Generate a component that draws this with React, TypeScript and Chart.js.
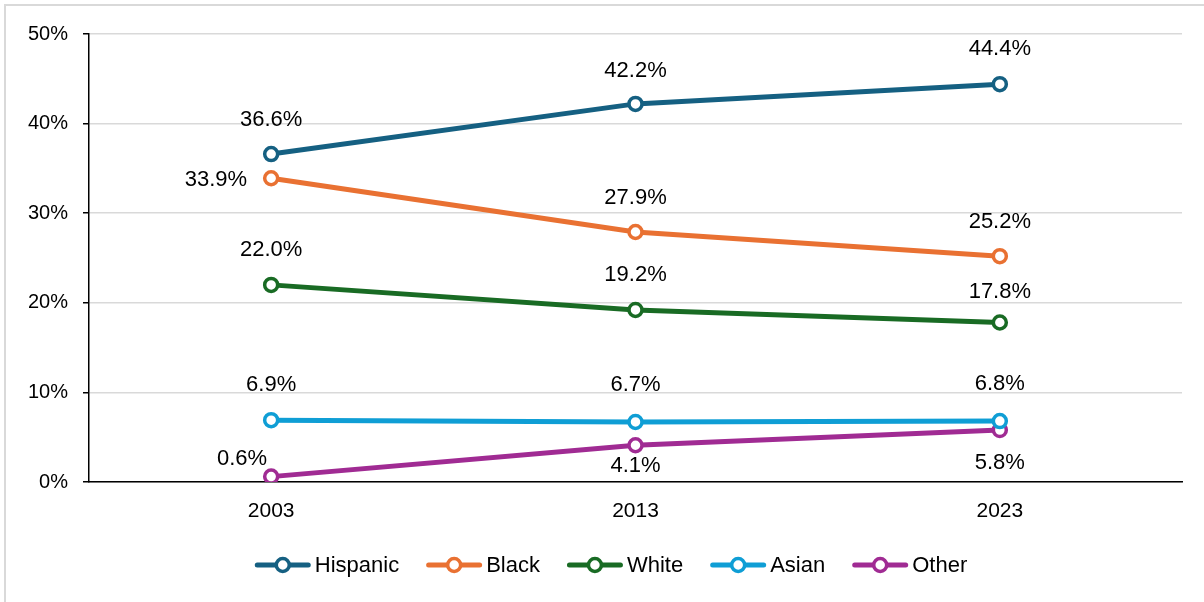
import React, { useEffect, useRef } from "react";
import { Chart, registerables } from "chart.js";

Chart.register(...registerables);

const years = ["2003", "2013", "2023"];
const seriesNames = ["Hispanic", "Black", "White", "Asian", "Other"];
const hispanic = [36.6, 42.2, 44.4];
const black = [33.9, 27.9, 25.2];
const white = [22.0, 19.2, 17.8];
const asian = [6.9, 6.7, 6.8];
const other = [0.6, 4.1, 5.8];
const yTicks = [0, 10, 20, 30, 40, 50];

const colors = ["#156082", "#E97132", "#196B24", "#0F9ED5", "#A02B93"];

// Where each value label sits relative to its point: [dx, dy, align]
type Place = [number, number, CanvasTextAlign];
const labelPlacement: Place[][] = [
  [[0, -34, "center"], [0, -33, "center"], [0, -35, "center"]],
  [[-24, 2, "right"], [0, -34, "center"], [0, -34, "center"]],
  [[0, -35, "center"], [0, -35, "center"], [0, -31, "center"]],
  [[0, -35, "center"], [0, -37, "center"], [0, -37, "center"]],
  [[-4, -18, "right"], [0, 21, "center"], [0, 33, "center"]],
];

const FONT = "'Liberation Sans', Arial, sans-serif";

// Legend row geometry
const LEGEND_CENTER_X = 611;
const LEGEND_Y = 565;
const MARKER_W = 56;
const MARKER_GAP = 4;
const ITEM_GAP = 27;

function drawMarker(ctx: CanvasRenderingContext2D, x: number, y: number, color: string) {
  ctx.save();
  ctx.strokeStyle = color;
  ctx.lineCap = "round";
  ctx.lineWidth = 5;
  ctx.beginPath();
  ctx.moveTo(x + 2.5, y);
  ctx.lineTo(x + MARKER_W - 2.5, y);
  ctx.stroke();
  ctx.beginPath();
  ctx.arc(x + MARKER_W / 2, y, 6.5, 0, Math.PI * 2);
  ctx.fillStyle = "#fff";
  ctx.fill();
  ctx.lineWidth = 3.5;
  ctx.stroke();
  ctx.restore();
}

const valueLabels = {
  id: "valueLabels",
  afterDatasetsDraw(chart: Chart) {
    const ctx = chart.ctx;
    ctx.save();
    ctx.font = `22px ${FONT}`;
    ctx.fillStyle = "#000";
    ctx.textBaseline = "middle";
    chart.data.datasets.forEach((ds, i) => {
      const meta = chart.getDatasetMeta(i);
      meta.data.forEach((pt, j) => {
        const v = ds.data[j] as number;
        const [dx, dy, align] = labelPlacement[i][j];
        ctx.textAlign = align;
        ctx.fillText(`${v.toFixed(1)}%`, pt.x + dx, pt.y + dy);
      });
    });
    ctx.restore();
  },
};

const lineLegend = {
  id: "lineLegend",
  afterDraw(chart: Chart) {
    const ctx = chart.ctx;
    ctx.save();
    ctx.font = `22px ${FONT}`;
    ctx.textBaseline = "middle";
    ctx.textAlign = "left";
    ctx.fillStyle = "#000";
    const items = chart.data.datasets.map((ds, i) => ({
      text: ds.label as string,
      color: colors[i],
      w: MARKER_W + MARKER_GAP + ctx.measureText(ds.label as string).width,
    }));
    const total = items.reduce((s, it) => s + it.w, 0) + ITEM_GAP * (items.length - 1);
    let x = LEGEND_CENTER_X - total / 2;
    items.forEach((it) => {
      drawMarker(ctx, x, LEGEND_Y, it.color);
      ctx.fillStyle = "#000";
      ctx.fillText(it.text, x + MARKER_W + MARKER_GAP, LEGEND_Y + 1);
      x += it.w + ITEM_GAP;
    });
    ctx.restore();
  },
};

export default function App() {
  const ref = useRef<HTMLCanvasElement>(null);

  useEffect(() => {
    document.body.style.margin = "0";
    const values = [hispanic, black, white, asian, other];
    const chart = new Chart(ref.current!, {
      type: "line",
      data: {
        labels: years,
        datasets: seriesNames.map((name, i) => ({
          label: name,
          data: values[i],
          borderColor: colors[i],
          backgroundColor: colors[i],
          borderWidth: 5,
          pointStyle: "circle",
          pointRadius: 6.5,
          pointBorderWidth: 3.5,
          pointBackgroundColor: "#fff",
          pointBorderColor: colors[i],
          tension: 0,
        })),
      },
      options: {
        animation: false,
        responsive: false,
        layout: { padding: { left: 10, right: 22, top: 34, bottom: 70 } },
        scales: {
          x: {
            offset: true,
            grid: { display: false, drawTicks: false },
            border: { display: true, color: "#000", width: 1.5 },
            ticks: { color: "#000", font: { size: 21, family: FONT }, padding: 17 },
            afterFit: (s: any) => {
              s.height = 50;
            },
          },
          y: {
            min: 0,
            max: 50,
            afterBuildTicks: (s: any) => {
              s.ticks = yTicks.map((v) => ({ value: v }));
            },
            grid: { color: "#d9d9d9", lineWidth: 1.5, tickColor: "#000", tickLength: 6 },
            border: { display: true, color: "#000", width: 1.5 },
            ticks: {
              color: "#000",
              font: { size: 20, family: FONT },
              padding: 15,
              callback: (v: any) => `${v}%`,
            },
            afterFit: (s: any) => {
              s.width = 79;
            },
          },
        },
        plugins: {
          legend: { display: false },
          tooltip: { enabled: false },
        },
      },
      plugins: [valueLabels, lineLegend],
    });
    return () => chart.destroy();
  }, []);

  return (
    <div style={{ position: "relative", width: 1204, height: 602, background: "#fff" }}>
      <div
        style={{
          position: "absolute",
          left: 4,
          top: 4,
          right: 0,
          bottom: 0,
          borderLeft: "2px solid #d9d9d9",
          borderTop: "2px solid #d9d9d9",
        }}
      />
      <canvas ref={ref} width={1204} height={602} style={{ position: "absolute", left: 0, top: 0 }} />
    </div>
  );
}
